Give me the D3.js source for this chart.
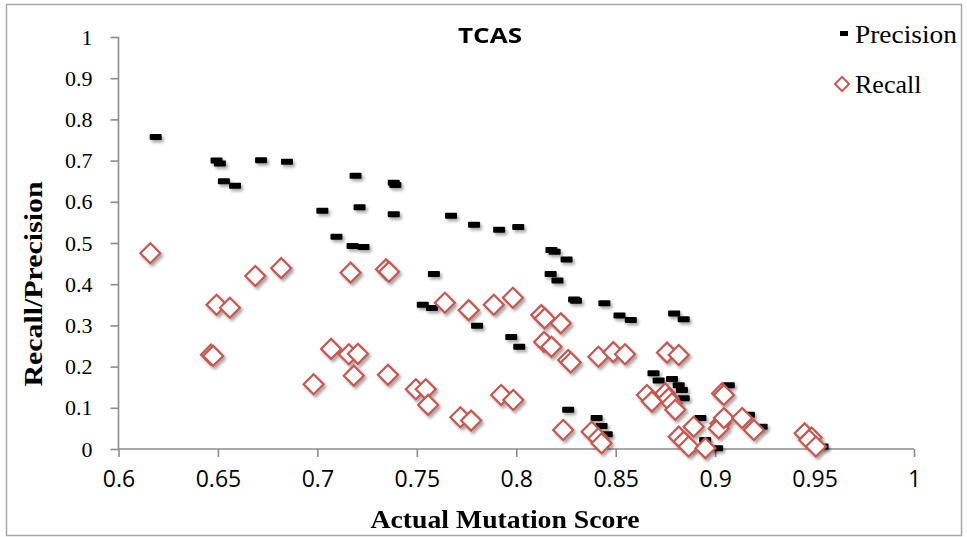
<!DOCTYPE html>
<html>
<head>
<meta charset="utf-8">
<script src="https://cdn.jsdelivr.net/npm/d3@7"></script>
<style>
  body { margin: 0; background: #fff; }
  svg { display: block; }
</style>
</head>
<body>
<script>
// values: [actual mutation score, value]
const precision = [
  [0.6187, 0.757], [0.6493, 0.700], [0.651, 0.693], [0.653, 0.650], [0.6586, 0.639],
  [0.6717, 0.701], [0.6847, 0.697], [0.7025, 0.578], [0.7096, 0.515], [0.7177, 0.493],
  [0.7192, 0.663], [0.7212, 0.587], [0.7232, 0.490], [0.7384, 0.646], [0.7392, 0.641],
  [0.7384, 0.570], [0.753, 0.350], [0.7576, 0.342], [0.7586, 0.425], [0.7672, 0.566],
  [0.7788, 0.544], [0.7803, 0.299], [0.7914, 0.532], [0.7975, 0.272], [0.801, 0.539],
  [0.8015, 0.248], [0.8177, 0.483], [0.8193, 0.479], [0.8253, 0.460], [0.8173, 0.425],
  [0.8207, 0.409], [0.8291, 0.363], [0.8300, 0.360], [0.8443, 0.354], [0.8519, 0.324],
  [0.8576, 0.313], [0.8794, 0.329], [0.8842, 0.315], [0.8261, 0.095], [0.8404, 0.075],
  [0.8429, 0.056], [0.8455, 0.036], [0.869, 0.184], [0.8716, 0.166], [0.8783, 0.170],
  [0.8817, 0.155], [0.8833, 0.143], [0.8842, 0.123], [0.8926, 0.075], [0.9069, 0.155],
  [0.917, 0.083], [0.9234, 0.054], [0.895, 0.022], [0.954, 0.006], [0.901, 0.002],
  [0.8867, 0.002],
];

const recall = [
  [0.616, 0.475], [0.6465, 0.229], [0.6476, 0.226], [0.6493, 0.350], [0.656, 0.343],
  [0.6688, 0.420], [0.6818, 0.439], [0.6981, 0.157], [0.7069, 0.243], [0.7158, 0.230],
  [0.7167, 0.428], [0.7183, 0.178], [0.7204, 0.231], [0.7345, 0.436], [0.736, 0.430],
  [0.7355, 0.180], [0.7495, 0.145], [0.7545, 0.145], [0.7557, 0.107], [0.7641, 0.355],
  [0.7719, 0.077], [0.7761, 0.337], [0.7773, 0.069], [0.7887, 0.350], [0.7924, 0.131],
  [0.7983, 0.367], [0.7985, 0.119], [0.8126, 0.325], [0.8143, 0.317], [0.814, 0.260],
  [0.8177, 0.248], [0.8224, 0.305], [0.8236, 0.046], [0.8261, 0.216], [0.8274, 0.210],
  [0.8379, 0.042], [0.8413, 0.026], [0.8429, 0.014], [0.8413, 0.224], [0.8488, 0.235],
  [0.8547, 0.230], [0.8657, 0.131], [0.8682, 0.115], [0.8749, 0.135], [0.8766, 0.123],
  [0.8783, 0.111], [0.8800, 0.095], [0.8758, 0.234], [0.8817, 0.228], [0.8817, 0.030],
  [0.8842, 0.018], [0.8867, 0.006], [0.8892, 0.054], [0.8951, 0.002], [0.9035, 0.135],
  [0.9044, 0.131], [0.9027, 0.062], [0.9018, 0.050], [0.9044, 0.075], [0.9136, 0.075],
  [0.9195, 0.046], [0.945, 0.038], [0.9485, 0.028], [0.9473, 0.022], [0.9507, 0.006],
];

const xTicks = [0.6, 0.65, 0.7, 0.75, 0.8, 0.85, 0.9, 0.95, 1];
const yTicks = [0, 0.1, 0.2, 0.3, 0.4, 0.5, 0.6, 0.7, 0.8, 0.9, 1];

const width = 967;
const height = 537;
const serif = '"Liberation Serif", "DejaVu Serif", serif';
const sans = '"Open Sans", "Liberation Sans", sans-serif';
const recallColor = '#c9564f';

const svg = d3.select('body')
  .append('svg')
  .attr('width', width)
  .attr('height', height);

// soft drop shadow like the office chart
const defs = svg.append('defs');
const shadow = defs.append('filter')
  .attr('id', 'shadow')
  .attr('x', '-50%').attr('y', '-50%')
  .attr('width', '200%').attr('height', '200%');
shadow.append('feDropShadow')
  .attr('dx', 2).attr('dy', 2.5)
  .attr('stdDeviation', 1.6)
  .attr('flood-color', '#000')
  .attr('flood-opacity', 0.35);

svg.append('rect')
  .attr('x', 6.5).attr('y', 4.5)
  .attr('width', 955).attr('height', 531)
  .attr('fill', '#fff')
  .attr('stroke', '#a6a6a6')
  .attr('stroke-width', 1.5);

const x = d3.scaleLinear().domain([0.6, 1]).range([118.5, 914]);
const y = d3.scaleLinear().domain([0, 1]).range([449, 37]);

const axisColor = '#8c8c8c';

const xAxis = svg.append('g')
  .attr('transform', `translate(0, ${y(0)})`)
  .call(d3.axisBottom(x).tickValues(xTicks).tickSize(8).tickPadding(14)
    .tickFormat(d3.format('')));
xAxis.select('.domain').attr('stroke', axisColor).attr('stroke-width', 1.6)
  .attr('d', `M${x(0.6)},0H${x(1)}`);
xAxis.selectAll('.tick line').attr('stroke', axisColor).attr('stroke-width', 1.6);
xAxis.selectAll('.tick text')
  .attr('font-family', sans)
  .attr('font-size', 23)
  .attr('fill', '#000');

const yAxis = svg.append('g')
  .attr('transform', `translate(${x(0.6)}, 0)`)
  .call(d3.axisLeft(y).tickValues(yTicks).tickSize(8).tickPadding(18)
    .tickFormat(d3.format('')));
yAxis.select('.domain').attr('stroke', axisColor).attr('stroke-width', 1.6)
  .attr('d', `M0,${y(0)}V${y(1)}`);
yAxis.selectAll('.tick line').attr('stroke', axisColor).attr('stroke-width', 1.6);
yAxis.selectAll('.tick text')
  .attr('font-family', serif)
  .attr('font-size', 22)
  .attr('fill', '#000');

// precision dashes
svg.append('g')
  .attr('filter', 'url(#shadow)')
  .selectAll('rect')
  .data(precision)
  .join('rect')
  .attr('x', d => x(d[0]) - 6)
  .attr('y', d => y(d[1]) - 3)
  .attr('width', 12)
  .attr('height', 6)
  .attr('rx', 1)
  .attr('fill', '#000');

// recall diamonds
const diamond = d3.symbol().type(d3.symbolSquare).size(200);
svg.append('g')
  .attr('filter', 'url(#shadow)')
  .selectAll('path')
  .data(recall)
  .join('path')
  .attr('d', diamond)
  .attr('transform', d => `translate(${x(d[0])}, ${y(d[1])}) rotate(45)`)
  .attr('fill', '#fff')
  .attr('stroke', recallColor)
  .attr('stroke-width', 2.2);

// title
svg.append('text')
  .attr('x', 490).attr('y', 43)
  .attr('text-anchor', 'middle')
  .attr('font-family', sans)
  .attr('font-weight', 'bold')
  .attr('font-size', 22)
  .attr('textLength', 64)
  .attr('lengthAdjust', 'spacingAndGlyphs')
  .text('TCAS');

// axis titles
svg.append('text')
  .attr('x', 505).attr('y', 528)
  .attr('text-anchor', 'middle')
  .attr('font-family', serif)
  .attr('font-weight', 'bold')
  .attr('font-size', 25)
  .attr('textLength', 269)
  .attr('lengthAdjust', 'spacingAndGlyphs')
  .text('Actual Mutation Score');

svg.append('text')
  .attr('transform', 'translate(42, 284) rotate(-90)')
  .attr('text-anchor', 'middle')
  .attr('font-family', serif)
  .attr('font-weight', 'bold')
  .attr('font-size', 25)
  .attr('textLength', 205)
  .attr('lengthAdjust', 'spacingAndGlyphs')
  .text('Recall/Precision');

// legend
const legend = svg.append('g');
legend.append('rect')
  .attr('x', 840).attr('y', 31)
  .attr('width', 8).attr('height', 5)
  .attr('fill', '#000');
legend.append('text')
  .attr('x', 855).attr('y', 43)
  .attr('font-family', serif)
  .attr('font-size', 26)
  .attr('textLength', 102)
  .attr('lengthAdjust', 'spacingAndGlyphs')
  .text('Precision');
legend.append('path')
  .attr('d', d3.symbol().type(d3.symbolSquare).size(100))
  .attr('transform', 'translate(842, 84) rotate(45)')
  .attr('fill', '#fff')
  .attr('stroke', recallColor)
  .attr('stroke-width', 2);
legend.append('text')
  .attr('x', 855).attr('y', 93)
  .attr('font-family', serif)
  .attr('font-size', 26)
  .text('Recall');
</script>
</body>
</html>
